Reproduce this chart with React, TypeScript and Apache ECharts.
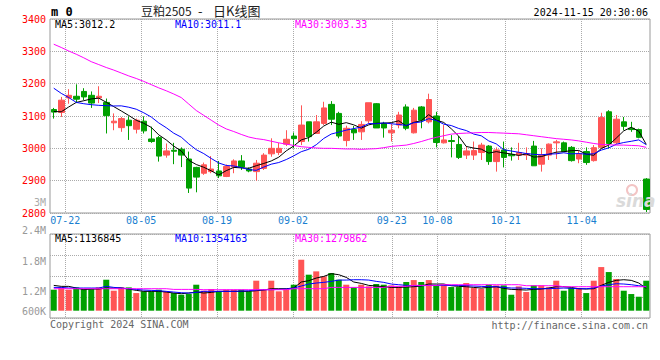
import React, { useEffect, useRef } from "react";
import * as echarts from "echarts";

// ---------- data ----------
const dates = [
  "07-18","07-19","07-22","07-23","07-24","07-25","07-26","07-29","07-30","07-31",
  "08-01","08-02","08-05","08-06","08-07","08-08","08-09","08-12","08-13","08-14","08-15","08-16",
  "08-19","08-20","08-21","08-22","08-23","08-26","08-27","08-28","08-29","08-30",
  "09-02","09-03","09-04","09-05","09-06","09-09","09-10","09-11","09-12","09-13","09-18","09-19","09-20",
  "09-23","09-24","09-25","09-26","09-27","09-30",
  "10-08","10-09","10-10","10-11","10-14","10-15","10-16","10-17","10-18",
  "10-21","10-22","10-23","10-24","10-25","10-28","10-29","10-30","10-31",
  "11-01","11-04","11-05","11-06","11-07","11-08","11-11","11-12","11-13","11-14","11-15",
];
const tickDates = ["07-22", "08-05", "08-19", "09-02", "09-23", "10-08", "10-21", "11-04"];

const opens = [
  3120,3111,3156,3161,3176,3164,3156,3142,3079,3064,
  3087,3059,3084,3029,3033,2979,2994,2997,2967,2941,
  2923,2928,2930,2913,2942,2961,2936,2928,2938,2983,
  2987,3013,3038,3021,3082,3046,3077,3136,3108,3024,
  3058,3051,3085,3138,3077,3048,3072,3128,3048,3128,
  3082,3100,3017,3024,3012,2979,2979,2987,3007,2959,
  2995,2981,2979,2979,3007,2951,2979,3017,3017,3003,
  2967,2990,2962,3003,3113,3017,3082,3062,3058,2905,
];
const closes = [
  3112,3149,3164,3152,3159,3140,3161,3101,3084,3092,
  3070,3087,3054,3021,2976,2992,2991,2979,2877,2911,
  2949,2936,2915,2944,2961,2942,2930,2954,2979,3000,
  3000,3028,3030,3072,3036,3082,3125,3090,3038,3062,
  3048,3074,3141,3063,3063,3056,3103,3062,3118,3087,
  3151,3018,3026,3021,2972,2992,2993,3010,2959,2995,
  2972,2977,2987,2983,2946,2979,3013,3020,2990,2962,
  2982,2956,3002,3095,3015,3090,3068,3058,3034,2811,
];
const lows = [
  3092,3097,3138,3140,3149,3125,3140,3046,3056,3051,
  3026,3046,3046,3017,2959,2971,2951,2942,2862,2864,
  2918,2923,2908,2911,2923,2933,2926,2900,2933,2974,
  2979,3007,3000,3010,3021,3046,3072,3072,3031,3006,
  3026,3026,3077,3063,3033,3021,3062,3056,3046,3062,
  3077,3003,3015,2972,2967,2967,2964,2964,2949,2928,
  2941,2962,2964,2964,2946,2928,2964,2967,2990,2959,
  2954,2949,2959,3000,3000,3013,3056,3051,3031,2803,
];
const highs = [
  3125,3159,3183,3198,3186,3176,3192,3154,3108,3097,
  3099,3092,3099,3067,3038,3015,3017,3003,2990,2943,
  2956,2976,2961,2950,2966,2979,2941,2964,2985,3031,
  3017,3056,3049,3133,3082,3103,3144,3146,3113,3070,
  3069,3084,3141,3140,3082,3077,3113,3136,3125,3131,
  3169,3113,3072,3041,3038,3007,3021,3017,3010,3003,
  3021,3003,3017,3003,3023,3000,3015,3026,3021,3007,
  2993,3003,3010,3110,3118,3103,3097,3082,3061,2908,
];
// moving-average values before enough closes exist
const ma5Lead = [3114, 3113, 3128, 3142];
const ma10Lead = [3186, 3170, 3157, 3142, 3138, 3135, 3133, 3132, 3131];
const ma30 = [
  3322,3312,3301,3291,3280,3268,3259,3250,3242,3233,
  3224,3216,3207,3197,3187,3178,3168,3157,3137,3117,
  3102,3087,3072,3060,3052,3043,3035,3030,3027,3022,
  3017,3013,3009,3005,3003,3001,3000,3000,2999,2998,
  2998,2997,2998,2999,3002,3006,3008,3010,3015,3021,
  3028,3034,3039,3044,3046,3047,3048,3049,3049,3048,
  3047,3046,3045,3042,3039,3036,3033,3030,3028,3026,
  3023,3019,3015,3012,3011,3010,3010,3009,3008,3003,
];
// volumes in thousands of lots
const volumes = [
  1093,1147,1093,1147,1108,1108,1147,1327,1069,1147,
  1147,1014,1054,1054,1093,1054,1014,975,991,1210,
  1069,1108,1054,1093,1093,1093,1054,1304,1093,1304,
  1054,1108,1210,1796,1445,1523,1405,1484,1327,1210,
  1147,1210,1171,1226,1210,1194,1171,1273,1319,1273,
  1319,1194,1210,1155,1155,1249,1132,1116,1210,1194,
  1194,975,1171,1038,1194,1194,1147,1304,1069,1132,
  1132,1014,1304,1624,1507,1343,1069,991,928,1304,
];
const volMa5 = [
  1194,1171,1171,1132,1093,1108,1108,1132,1132,1132,
  1108,1077,1054,1054,1054,1038,1014,999,1014,1038,
  1014,1030,1054,1054,1054,1054,1054,1069,1085,1116,
  1116,1116,1132,1273,1304,1366,1405,1468,1445,1382,
  1273,1241,1194,1179,1163,1147,1147,1155,1163,1179,
  1226,1226,1226,1186,1171,1163,1147,1132,1147,1163,
  1124,1100,1093,1085,1100,1108,1132,1163,1163,1147,
  1116,1108,1116,1194,1265,1312,1327,1312,1249,1125,
];
const volMa10 = [
  1147,1147,1132,1132,1132,1132,1132,1171,1147,1132,
  1116,1100,1085,1077,1069,1054,1038,1022,1014,1030,
  1054,1054,1054,1054,1054,1061,1069,1085,1093,1093,
  1100,1108,1132,1179,1226,1249,1265,1288,1319,1319,
  1327,1327,1319,1288,1265,1226,1210,1194,1186,1186,
  1194,1194,1194,1194,1194,1186,1179,1171,1163,1163,
  1147,1132,1132,1124,1116,1116,1116,1124,1132,1124,
  1116,1116,1132,1179,1210,1233,1226,1210,1186,1163,
];
const volMa30 = [
  1116,1116,1116,1116,1116,1116,1116,1116,1116,1116,
  1116,1116,1116,1116,1116,1116,1100,1100,1100,1100,
  1093,1093,1093,1093,1093,1093,1093,1093,1093,1093,
  1093,1093,1116,1116,1116,1116,1116,1147,1147,1147,
  1147,1147,1147,1147,1147,1171,1171,1171,1194,1194,
  1194,1194,1210,1210,1210,1210,1210,1210,1210,1210,
  1210,1210,1210,1186,1186,1186,1186,1186,1163,1163,
  1163,1163,1163,1163,1163,1163,1163,1163,1163,1163,
];
const priceMaTexts = ["MA5:3012.2", "MA10:3011.1", "MA30:3003.33"];
const volMaTexts = ["MA5:1136845", "MA10:1354163", "MA30:1279862"];
const volTickLabels = ["2.4M", "1.8M", "1.2M", "600K"];
const titleParts = ["豆粕2505", "-", "日K线图"];
const stampText = "2024-11-15 20:30:06";

// ---------- styles ----------
const MONO = '"DejaVu Sans Mono", "Liberation Mono", monospace';
const CJK = '"Noto Sans CJK SC", sans-serif';
const RED = "#ff5555";
const GREEN = "#00a000";
const GRID_LINE = { type: "dotted", color: "#aaaaaa", width: 1 };

function movingAverage(n: number, lead: number[]) {
  return closes.map((_, i) => {
    if (i < lead.length) return lead[i];
    let s = 0;
    for (let k = i - n + 1; k <= i; k++) s += closes[k];
    return +(s / n).toFixed(2);
  });
}

function txt(x: number, y: number, text: string, fill: string, opts: any = {}) {
  return {
    type: "text",
    x,
    y,
    z: 10,
    style: {
      text,
      fill,
      fontFamily: opts.fontFamily || MONO,
      fontSize: opts.fontSize || 10,
      fontWeight: opts.fontWeight || "normal",
      fontStyle: opts.fontStyle || "normal",
      align: opts.align || "left",
      verticalAlign: "middle",
    },
  };
}

export default function App() {
  const ref = useRef<HTMLDivElement>(null);

  useEffect(() => {
    document.body.style.margin = "0";
    if (!ref.current) return;
    const chart = echarts.init(ref.current, undefined, { renderer: "svg" });
    const isTick = (_i: number, v: string) => tickDates.indexOf(v) >= 0;
    const candles = opens.map((o, i) => [o, closes[i], lows[i], highs[i]]);
    const volBars = volumes.map((v, i) => ({
      value: v,
      itemStyle: { color: closes[i] > opens[i] ? RED : GREEN },
    }));
    const ma5 = movingAverage(5, ma5Lead);
    const ma10 = movingAverage(10, ma10Lead);
    const lineS = (data: number[], color: string, xi: number, yi: number) => ({
      type: "line",
      data,
      xAxisIndex: xi,
      yAxisIndex: yi,
      symbol: "none",
      silent: true,
      lineStyle: { color, width: 1 },
      z: 4,
    });

    chart.setOption({
      animation: false,
      backgroundColor: "#ffffff",
      textStyle: { fontFamily: MONO },
      grid: [
        { left: 50, top: 19, width: 600, height: 194, show: true, borderColor: "#999", borderWidth: 1, backgroundColor: "transparent" },
        { left: 50, top: 234, width: 600, height: 76.7 },
        { left: 50, top: 234, width: 600, height: 84, show: true, borderColor: "#999", borderWidth: 1, backgroundColor: "transparent" },
      ],
      xAxis: [
        { type: "category", gridIndex: 0, data: dates, boundaryGap: true, show: false, position: "bottom" },
        {
          type: "category", gridIndex: 0, data: dates, boundaryGap: false, position: "bottom",
          axisLine: { show: false }, axisTick: { show: false },
          axisLabel: { interval: isTick, color: "#1a7fd0", fontSize: 10, margin: 2, fontFamily: MONO },
          splitLine: { show: true, interval: isTick, lineStyle: GRID_LINE },
        },
        { type: "category", gridIndex: 1, data: dates, boundaryGap: true, show: false, position: "bottom" },
        {
          type: "category", gridIndex: 2, data: dates, boundaryGap: false, position: "bottom",
          axisLine: { show: false }, axisTick: { show: false }, axisLabel: { show: false },
          splitLine: { show: true, interval: isTick, lineStyle: GRID_LINE },
        },
      ],
      yAxis: [
        {
          type: "value", gridIndex: 0, min: 2800, max: 3400, interval: 100, position: "left",
          axisLine: { show: false }, axisTick: { show: false },
          axisLabel: {
            color: "#ff0000", fontSize: 10, margin: 4, padding: [0, 0, 4, 0], fontFamily: MONO,
            formatter: (v: number) => String(v),
          },
          splitLine: { show: true, lineStyle: GRID_LINE },
        },
        { type: "value", gridIndex: 1, min: 600, max: 2400, show: false, splitLine: { show: false } },
        {
          type: "value", gridIndex: 2, min: 0, max: 4, interval: 1,
          axisLine: { show: false }, axisTick: { show: false }, axisLabel: { show: false },
          splitLine: { show: true, lineStyle: GRID_LINE },
        },
      ],
      series: [
        {
          type: "candlestick",
          data: candles,
          xAxisIndex: 0,
          yAxisIndex: 0,
          barWidth: 6,
          silent: true,
          itemStyle: { color: RED, color0: GREEN, borderColor: RED, borderColor0: GREEN, borderWidth: 1 },
          z: 3,
        },
        lineS(ma5, "#000000", 0, 0),
        lineS(ma10, "#0000ff", 0, 0),
        lineS(ma30, "#ff00ff", 0, 0),
        { type: "bar", data: volBars, xAxisIndex: 2, yAxisIndex: 1, barWidth: 6, silent: true, z: 3 },
        lineS(volMa5, "#000000", 2, 1),
        lineS(volMa10, "#0000ff", 2, 1),
        lineS(volMa30, "#ff00ff", 2, 1),
      ],
      graphic: [
        // watermark
        { type: "circle", shape: { cx: 632, cy: 190, r: 5 }, style: { fill: "none", stroke: "#f3c4c4", lineWidth: 2 }, z: 0 },
        txt(616, 201, "sina", "#dadada", { fontFamily: "DejaVu Sans", fontSize: 17, fontWeight: "bold", fontStyle: "italic" }),
        txt(51, 12, "m 0", "#000", { fontSize: 12, fontWeight: "bold" }),
        txt(141, 10, titleParts[0], "#222", { fontFamily: CJK, fontSize: 12 }),
        txt(198, 10, titleParts[1], "#222", { fontFamily: CJK, fontSize: 13 }),
        txt(213, 10, titleParts[2], "#222", { fontFamily: CJK, fontSize: 13 }),
        txt(648, 12, stampText, "#000", { align: "right" }),
        txt(55, 24, priceMaTexts[0], "#000000"),
        txt(175, 24, priceMaTexts[1], "#0000ff"),
        txt(295, 24, priceMaTexts[2], "#ff00ff"),
        txt(46, 202, "3M", "#aaaaaa", { align: "right" }),
        txt(46, 230, volTickLabels[0], "#999999", { align: "right" }),
        txt(46, 261, volTickLabels[1], "#999999", { align: "right" }),
        txt(46, 291, volTickLabels[2], "#999999", { align: "right" }),
        txt(46, 311, volTickLabels[3], "#999999", { align: "right" }),
        txt(55, 238.5, volMaTexts[0], "#000000"),
        txt(175, 238.5, volMaTexts[1], "#0000ff"),
        txt(295, 238.5, volMaTexts[2], "#ff00ff"),
        txt(50, 324, "Copyright 2024 SINA.COM", "#666666"),
        txt(648, 325, "http://finance.sina.com.cn", "#666666", { align: "right" }),
      ],
    });
    return () => chart.dispose();
  }, []);

  return (
    <div
      ref={ref}
      style={{ position: "absolute", left: 0, top: 0, width: 660, height: 360, background: "#fff" }}
    />
  );
}
